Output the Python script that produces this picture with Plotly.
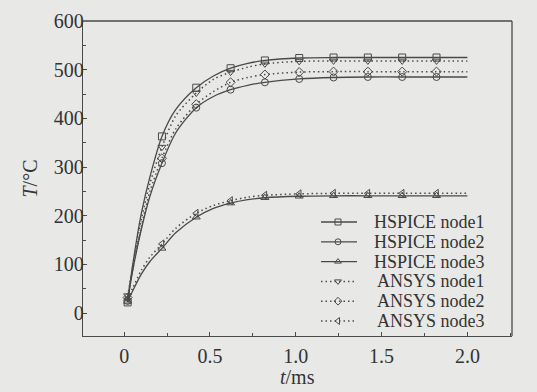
import plotly.graph_objects as go

# ---------------- data ----------------
t = [0.02, 0.05, 0.10, 0.15, 0.22, 0.30, 0.42, 0.52, 0.62, 0.72, 0.82, 1.02, 1.22, 1.42, 1.62, 1.82, 2.00]
marker_times = [0.02, 0.22, 0.42, 0.62, 0.82, 1.02, 1.22, 1.42, 1.62, 1.82]

hspice_node1 = [22, 100, 205, 280, 363, 418, 463, 487, 503, 513, 519, 524, 525, 525, 525, 525, 525]
hspice_node2 = [25, 88, 172, 240, 308, 370, 422, 445, 459, 468, 474, 481, 484, 485, 485, 485, 485]
hspice_node3 = [24, 46, 80, 106, 133, 165, 197, 215, 226, 233, 237, 240, 241, 241, 241, 241, 241]
ansys_node1 = [36, 95, 192, 266, 341, 405, 452, 480, 495, 505, 512, 517, 518, 518, 518, 518, 518]
ansys_node2 = [32, 90, 178, 250, 318, 378, 429, 455, 474, 484, 490, 495, 496, 496, 496, 496, 496]
ansys_node3 = [30, 52, 88, 115, 142, 174, 205, 221, 231, 238, 242, 245, 246, 246, 246, 246, 246]

series_names = ["HSPICE node1", "HSPICE node2", "HSPICE node3",
                "ANSYS node1", "ANSYS node2", "ANSYS node3"]
series_values = [hspice_node1, hspice_node2, hspice_node3,
                 ansys_node1, ansys_node2, ansys_node3]

x_tickvals = [0, 0.5, 1.0, 1.5, 2.0]
x_ticktext = ["0", "0.5", "1.0", "1.5", "2.0"]
y_tickvals = [0, 100, 200, 300, 400, 500, 600]
y_ticktext = ["0", "100", "200", "300", "400", "500", "600"]

# ---------------- styles ----------------
INK = "#4a4a4a"
TXT = "#333333"
BG = "#e8e8e6"
FONT = "Liberation Serif"
symbols = ["square-open", "circle-open", "triangle-up-open",
           "triangle-down-open", "diamond-open", "triangle-left-open"]
dashes = ["solid", "solid", "solid", "1.5px,3px", "1.5px,3px", "1.5px,3px"]
widths = [1.3, 1.3, 1.3, 1.5, 1.5, 1.5]

W, H = 537, 392
# plot-area pixel frame (for overlay legend axis)
L, R, T_, B = 83, 512, 21, 336

fig = go.Figure()

for name, vals, sym, dash, w in zip(series_names, series_values, symbols, dashes, widths):
    fig.add_trace(go.Scatter(
        x=t, y=vals, mode="lines",
        line=dict(color=INK, width=w, dash=dash, shape="spline", smoothing=0.8),
        showlegend=False, hoverinfo="skip"))
    keep = [any(abs(ti - m) < 1e-9 for m in marker_times) for ti in t]
    mx = [ti for ti, k in zip(t, keep) if k]
    my = [v for v, k in zip(vals, keep) if k]
    fig.add_trace(go.Scatter(
        x=mx, y=my, mode="markers", name=name,
        marker=dict(symbol=sym, size=7, color=INK, line=dict(color=INK, width=1)),
        showlegend=False))

# ---------------- hand-laid legend on an overlay pixel axis ----------------
row0, row_step = 222, 19.8
gx0, gx1, gmx, text_right = 321, 357, 338, 487
for i, (name, sym, dash, w) in enumerate(zip(series_names, symbols, dashes, widths)):
    yy = row0 + i * row_step
    fig.add_trace(go.Scatter(
        x=[gx0, gx1], y=[yy, yy], mode="lines", xaxis="x2", yaxis="y2",
        line=dict(color=INK, width=w, dash=dash), showlegend=False, hoverinfo="skip"))
    fig.add_trace(go.Scatter(
        x=[gmx], y=[yy], mode="markers", xaxis="x2", yaxis="y2",
        marker=dict(symbol=sym, size=6, color=INK, line=dict(color=INK, width=1)),
        showlegend=False, hoverinfo="skip"))
    fig.add_annotation(x=text_right, y=yy, xref="x2", yref="y2", text=name,
                       showarrow=False, xanchor="right", yanchor="middle",
                       font=dict(family=FONT, size=18, color=TXT))

# axis titles as annotations (precise placement)
fig.add_annotation(x=0.5, y=-(377 - B) / (B - T_), xref="paper", yref="paper",
                   text="<i>t</i>/ms", showarrow=False, xanchor="center", yanchor="middle",
                   font=dict(family=FONT, size=20, color=TXT))
fig.add_annotation(x=(29 - L) / (R - L), y=0.5, xref="paper", yref="paper",
                   text="<i>T</i>/°C", showarrow=False, textangle=-90,
                   xanchor="center", yanchor="middle",
                   font=dict(family=FONT, size=20, color=TXT))

axis_common = dict(showline=True, linecolor=INK, linewidth=1.3, mirror=False,
                   showgrid=False, zeroline=False, ticks="inside", ticklen=4,
                   tickcolor=INK, tickwidth=1, automargin=False,
                   tickfont=dict(family=FONT, size=20, color=TXT))

fig.update_layout(
    width=W, height=H,
    margin=dict(l=L, r=W - R, t=T_, b=H - B, pad=0),
    paper_bgcolor=BG, plot_bgcolor=BG,
    showlegend=False,
    xaxis=dict(range=[-0.24, 2.26], tickvals=x_tickvals, ticktext=x_ticktext,
               minor=dict(dtick=0.25, tick0=0, ticks="inside", ticklen=3, tickcolor=INK),
               ticklabelstandoff=2,
               **axis_common),
    yaxis=dict(range=[-47, 600], tickvals=y_tickvals, ticktext=y_ticktext,
               minor=dict(dtick=50, tick0=0, ticks="inside", ticklen=3, tickcolor=INK),
               ticklabelstandoff=-6,
               **axis_common),
    xaxis2=dict(range=[L, R], overlaying="x", visible=False, fixedrange=True),
    yaxis2=dict(range=[B, T_], overlaying="y", visible=False, fixedrange=True),
    shapes=[
        dict(type="line", xref="paper", yref="paper", x0=0, x1=1, y0=1, y1=1, line=dict(color=INK, width=1.3)),
        dict(type="line", xref="paper", yref="paper", x0=1, x1=1, y0=0, y1=1, line=dict(color=INK, width=1.3)),
    ],
)

fig.write_html(
    "out.html",
    config={"displayModeBar": False},
    post_script="document.body.style.margin='0';document.body.style.background='%s';" % BG,
)
